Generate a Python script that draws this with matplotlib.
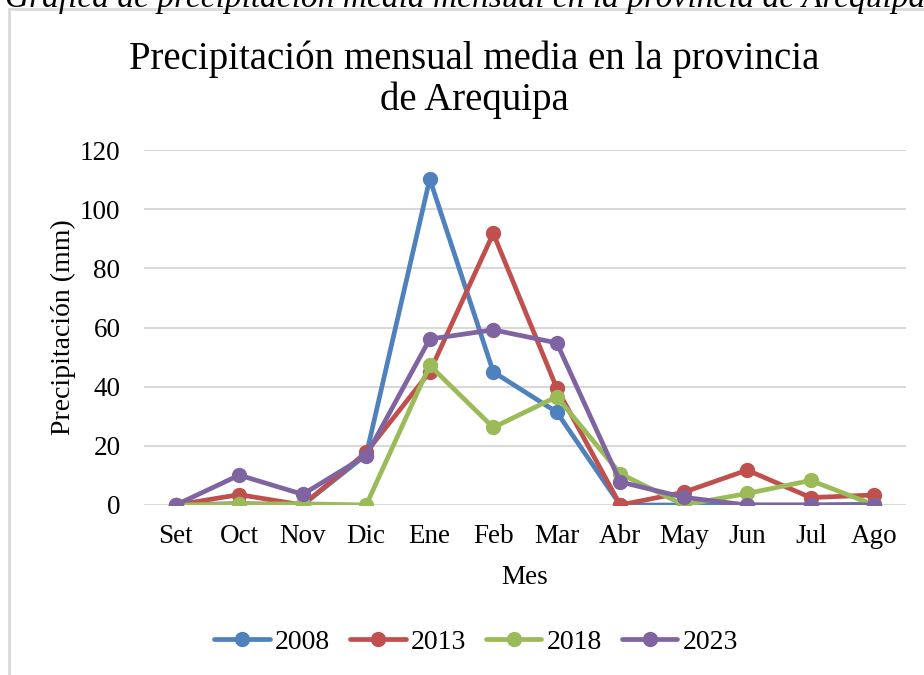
import matplotlib.pyplot as plt
from matplotlib.patches import Rectangle

meses = ['Set', 'Oct', 'Nov', 'Dic', 'Ene', 'Feb', 'Mar', 'Abr', 'May', 'Jun', 'Jul', 'Ago']
p2008 = [0, 0.5, 0, 17, 110.2, 45, 31.4, 0, 0, 0, 0, 0.3]
p2013 = [0, 3.5, 0, 17.8, 45, 91.8, 39.5, 0, 4.3, 11.8, 2.5, 3.4]
p2018 = [0, 0.3, 0.4, 0, 47.2, 26.2, 36.6, 10.6, 0, 3.9, 8.3, 0]
p2023 = [0, 10.1, 3.6, 16.7, 56.1, 59.2, 54.8, 7.8, 2.6, 0, 0, 0]
series = [('2008', p2008, '#4F81BD'), ('2013', p2013, '#C0504D'),
          ('2018', p2018, '#9BBB59'), ('2023', p2023, '#8064A2')]
yticks = [0, 20, 40, 60, 80, 100, 120]

plt.rcParams['font.family'] = ['Liberation Serif', 'DejaVu Serif']

fig = plt.figure(figsize=(9.24, 6.75), dpi=100)
W, H = 924, 675

# chart border (the chart box is cut on the right and bottom)
fig.patches.append(Rectangle((9 / W, -0.1), 1.2, 1 - 9 / H + 0.1, transform=fig.transFigure,
                             fill=False, edgecolor='#d9d9d9', linewidth=2))

# document caption, cut at the top
fig.text(5 / W, 1 - 7 / H, 'Gráfica de precipitación media mensual en la provincia de Arequipa',
         fontsize=24, style='italic', ha='left', va='baseline')

ax = fig.add_axes([144 / W, 1 - 505 / H, (906 - 144) / W, (505 - 150) / H])
x = range(len(meses))
for name, vals, col in series:
    ax.plot(x, vals, '-o', color=col, lw=3.4, markersize=10, label=name, solid_capstyle='round')

ax.set_xlim(-0.5, len(meses) - 0.5)
ax.set_ylim(0, 120)
ax.set_yticks(yticks)
ax.set_xticks(list(x))
ax.set_xticklabels(meses)
ax.grid(axis='y', color='#d9d9d9', lw=1.5)
ax.set_axisbelow(True)
for s in ax.spines.values():
    s.set_visible(False)
ax.tick_params(length=0, labelsize=19.5)
ax.tick_params(axis='x', pad=14)
ax.tick_params(axis='y', pad=17)
ax.set_xlabel('Mes', fontsize=19.5, labelpad=11)
ax.set_ylabel('Precipitación (mm)', fontsize=20, labelpad=3)

fig.text(474 / W, 1 - 80 / H, 'Precipitación mensual media en la provincia\nde Arequipa',
         fontsize=28, ha='center', va='center', linespacing=1.12)

fig.legend(loc='center', bbox_to_anchor=(476 / W, 1 - 642 / H), ncol=4, frameon=False,
           fontsize=20, handlelength=2.0, handletextpad=0.18, columnspacing=0.72)

fig.savefig('out.png', dpi=100)
